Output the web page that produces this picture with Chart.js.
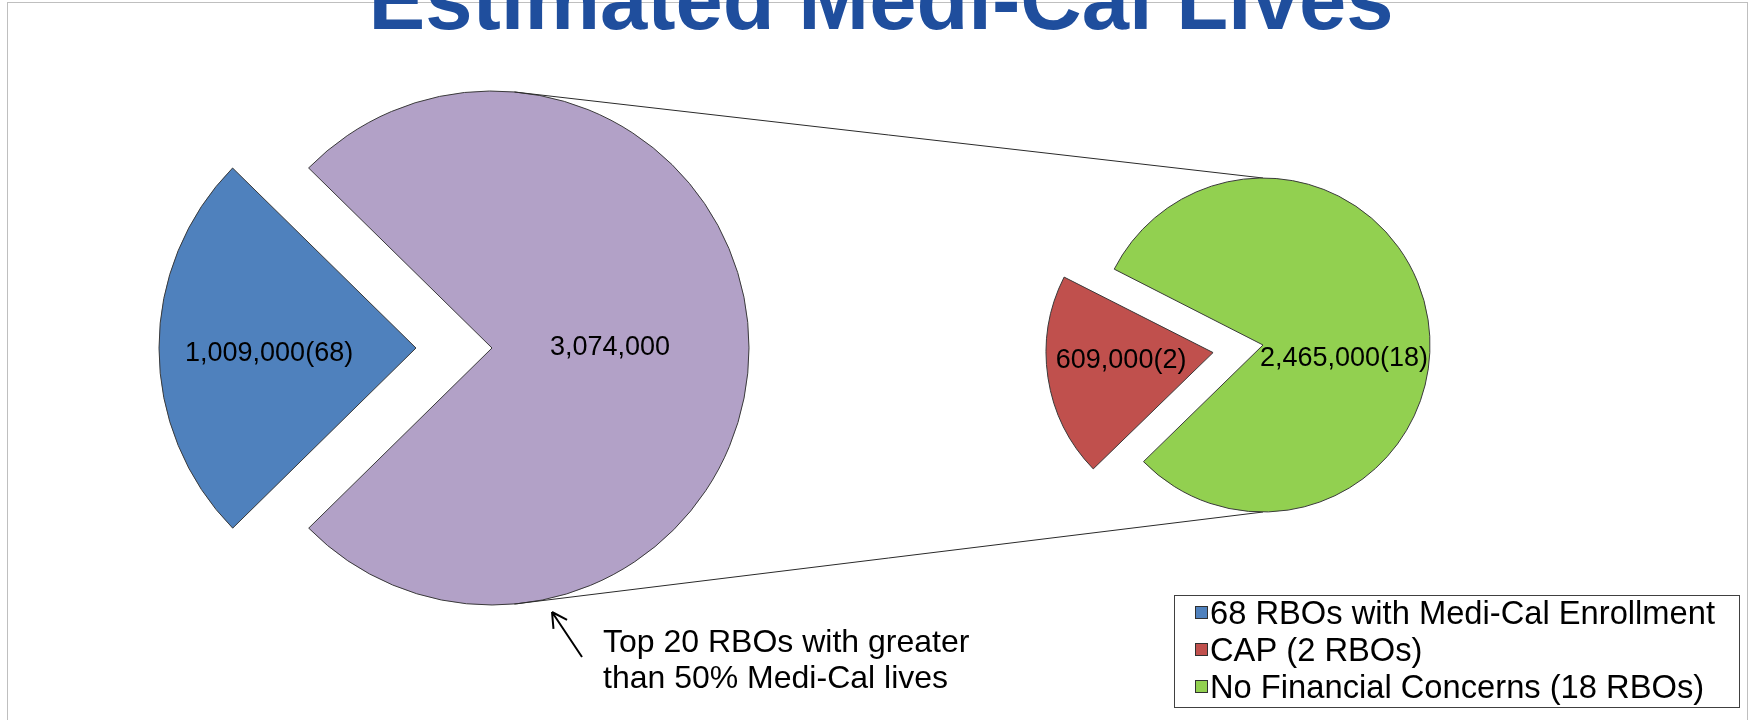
<!DOCTYPE html>
<html><head><meta charset="utf-8">
<script src="https://cdn.jsdelivr.net/npm/chart.js@4.4.1/dist/chart.umd.min.js"></script>
<style>
html,body{margin:0;padding:0;background:#fff;}
#wrap{position:relative;width:1755px;height:720px;overflow:hidden;background:#fff;}
#wrap canvas{position:absolute;left:0;top:0;}
</style></head><body>
<div id="wrap"><canvas id="main" width="1755" height="720"></canvas><canvas id="detail" width="1755" height="720"></canvas></div>
<script>
// ---- data ----
const titleText = 'Estimated Medi-Cal Lives';
const mainCategories = ['68 RBOs with Medi-Cal Enrollment', 'Top 20 RBOs with greater than 50% Medi-Cal lives'];
const mainValues = [1009000, 3074000];
const mainCounts = [68, null];
const mainColors = ['#4F81BD', '#B2A1C7'];
const detailCategories = ['CAP (2 RBOs)', 'No Financial Concerns (18 RBOs)'];
const detailValues = [609000, 2465000];
const detailCounts = [2, 18];
const detailColors = ['#C0504D', '#92D050'];
const annotationLines = ['Top 20 RBOs with greater', 'than 50% Medi-Cal lives'];

const FONT = '"Liberation Sans", Arial, Helvetica, sans-serif';
const fmt = v => v.toLocaleString('en-US');
const rad = d => d * Math.PI / 180;

// compensate Chart.js radius growth on exploded slices, keep true radius
const explodeFix = {
  id: 'explodeFix',
  afterDatasetsUpdate(chart) {
    chart.getDatasetMeta(0).data.forEach(el => {
      const off = (el.options && el.options.offset) || 0;
      const fix = 1 - Math.sin(Math.min(Math.PI, el.circumference || 0));
      const ro = (off / 4) * fix;
      el.$visR = el.outerRadius;
      el.outerRadius = el.outerRadius - ro;
      const mid = (el.startAngle + el.endAngle) / 2;
      el.$cx = el.x + Math.cos(mid) * off / 4;
      el.$cy = el.y + Math.sin(mid) * off / 4;
    });
  }
};

const sliceLabels = {
  id: 'sliceLabels',
  afterDatasetsDraw(chart, args, opts) {
    const ctx = chart.ctx;
    const meta = chart.getDatasetMeta(0);
    const ds = chart.data.datasets[0];
    ctx.save();
    ctx.font = '27px ' + FONT;
    ctx.fillStyle = '#000';
    ctx.textAlign = 'center';
    ctx.textBaseline = 'middle';
    meta.data.forEach((el, i) => {
      const p = opts.placement[i];
      const x = el.$cx + Math.cos(rad(p.angle)) * p.frac * el.$visR;
      const y = el.$cy + Math.sin(rad(p.angle)) * p.frac * el.$visR;
      const c = ds.counts[i];
      ctx.fillText(fmt(ds.data[i]) + (c != null ? '(' + c + ')' : ''), x, y);
    });
    ctx.restore();
  }
};

const mainDecor = {
  id: 'mainDecor',
  beforeDraw(chart) {
    const ctx = chart.ctx;
    ctx.save();
    ctx.strokeStyle = '#BFBFBF';
    ctx.lineWidth = 1;
    ctx.strokeRect(7.5, 2.5, 1740, 760);
    ctx.restore();
  },
  afterDraw(chart) {
    const ctx = chart.ctx;
    ctx.save();
    // title (cut off at top as in the source)
    ctx.font = 'bold 85px ' + FONT;
    ctx.fillStyle = '#1F4E9D';
    ctx.textAlign = 'center';
    ctx.textBaseline = 'alphabetic';
    ctx.fillText(titleText, 881, 28.5);
    // annotation arrow
    const tip = [552, 612], tail = [582, 657];
    ctx.strokeStyle = '#000';
    ctx.lineWidth = 2;
    ctx.beginPath();
    ctx.moveTo(tail[0], tail[1]); ctx.lineTo(tip[0], tip[1]);
    const ang = Math.atan2(tail[1] - tip[1], tail[0] - tip[0]);
    [-0.5, 0.5].forEach(d => {
      ctx.moveTo(tip[0], tip[1]);
      ctx.lineTo(tip[0] + 17 * Math.cos(ang + d), tip[1] + 17 * Math.sin(ang + d));
    });
    ctx.stroke();
    ctx.font = '32px ' + FONT;
    ctx.fillStyle = '#000';
    ctx.textAlign = 'left';
    ctx.fillText(annotationLines[0], 603, 652);
    ctx.fillText(annotationLines[1], 603, 688);
    ctx.restore();
  }
};

const mainChart = new Chart(document.getElementById('main'), {
  type: 'pie',
  data: {
    labels: mainCategories,
    datasets: [{
      data: mainValues,
      counts: mainCounts,
      backgroundColor: mainColors,
      borderColor: '#3A3A3A',
      borderWidth: 1,
      borderJoinStyle: 'miter',
      offset: [304, 0],
      hoverOffset: 0,
      radius: 257,
      clip: false
    }]
  },
  options: {
    responsive: false,
    animation: false,
    events: [],
    rotation: 225.5,
    layout: { padding: { left: 152, right: 923, top: 8, bottom: 32 } },
    plugins: {
      legend: { display: false },
      tooltip: { enabled: false },
      title: { display: false },
      sliceLabels: { placement: [{ angle: 178, frac: 0.572 }, { angle: 0, frac: 0.459 }] }
    }
  },
  plugins: [explodeFix, mainDecor, sliceLabels]
});

const detailDecor = {
  id: 'detailDecor',
  beforeDatasetsDraw(chart) {
    // series lines from the "other" slice to the secondary pie
    const ctx = chart.ctx;
    const p = mainChart.getDatasetMeta(0).data[1];
    const g = chart.getDatasetMeta(0).data[1];
    ctx.save();
    ctx.strokeStyle = '#2A2A2A';
    ctx.lineWidth = 1;
    ctx.beginPath();
    ctx.moveTo(p.x + p.$visR * Math.cos(rad(-85)), p.y + p.$visR * Math.sin(rad(-85)));
    ctx.lineTo(g.x, g.y - g.$visR);
    ctx.moveTo(p.x + p.$visR * Math.cos(rad(85)), p.y + p.$visR * Math.sin(rad(85)));
    ctx.lineTo(g.x, g.y + g.$visR);
    ctx.stroke();
    ctx.restore();
  },
  afterDraw(chart) {
    const ctx = chart.ctx;
    const items = [
      { text: mainChart.data.labels[0], color: mainChart.data.datasets[0].backgroundColor[0] },
      { text: chart.data.labels[0], color: chart.data.datasets[0].backgroundColor[0] },
      { text: chart.data.labels[1], color: chart.data.datasets[0].backgroundColor[1] }
    ];
    ctx.save();
    ctx.strokeStyle = '#404040';
    ctx.lineWidth = 1;
    ctx.strokeRect(1174.5, 595.5, 565, 112);
    ctx.font = '32.7px ' + FONT;
    ctx.textAlign = 'left';
    ctx.textBaseline = 'middle';
    items.forEach((it, i) => {
      const y = 615 + i * 37;
      ctx.fillStyle = it.color;
      ctx.fillRect(1195, y - 9, 13, 13);
      ctx.strokeStyle = '#303030';
      ctx.strokeRect(1195.5, y - 8.5, 12, 12);
      ctx.fillStyle = '#000';
      ctx.fillText(it.text, 1210, y);
    });
    ctx.restore();
  }
};

const detailChart = new Chart(document.getElementById('detail'), {
  type: 'pie',
  data: {
    labels: detailCategories,
    datasets: [{
      data: detailValues,
      counts: detailCounts,
      backgroundColor: detailColors,
      borderColor: '#3A3A3A',
      borderWidth: 1,
      borderJoinStyle: 'miter',
      offset: [202, 0],
      hoverOffset: 0,
      radius: 167,
      clip: false
    }]
  },
  options: {
    responsive: false,
    animation: false,
    events: [],
    rotation: 225.7,
    layout: { padding: { left: 1063, right: 292, top: 145, bottom: 175 } },
    plugins: {
      legend: { display: false },
      tooltip: { enabled: false },
      title: { display: false },
      sliceLabels: { placement: [{ angle: 174.8, frac: 0.553 }, { angle: 9.8, frac: 0.492 }] }
    }
  },
  plugins: [explodeFix, detailDecor, sliceLabels]
});
</script>
</body></html>
